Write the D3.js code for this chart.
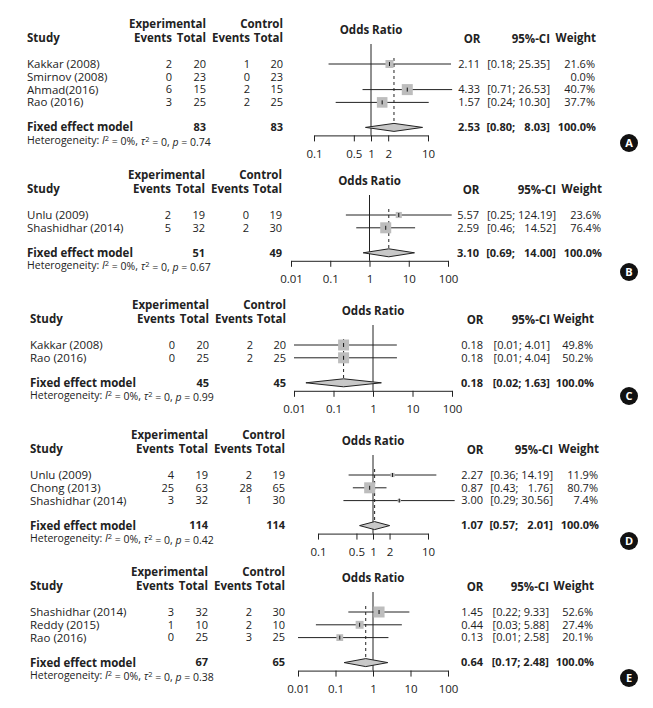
<!DOCTYPE html>
<html>
<head>
<meta charset="utf-8">
<script src="https://cdn.jsdelivr.net/npm/d3@7"></script>
<style>
  body { margin: 0; background: #fff; }
  svg text { font-family: "Open Sans", "Noto Sans", sans-serif; fill: #222; }
  .b { font-weight: bold; }
</style>
</head>
<body>
<div id="chart"></div>
<script>
// forest plots, one per panel (A-E)
const panelLabels = ['A', 'B', 'C', 'D', 'E'];
const studyNames = [
  ['Kakkar (2008)', 'Smirnov (2008)', 'Ahmad(2016)', 'Rao (2016)'],
  ['Unlu (2009)', 'Shashidhar (2014)'],
  ['Kakkar (2008)', 'Rao (2016)'],
  ['Unlu (2009)', 'Chong (2013)', 'Shashidhar (2014)'],
  ['Shashidhar (2014)', 'Reddy (2015)', 'Rao (2016)']
];
const expEvents = [[2, 0, 6, 3], [2, 5], [0, 0], [4, 25, 3], [3, 1, 0]];
const expTotals = [[20, 23, 15, 25], [19, 32], [20, 25], [19, 63, 32], [32, 10, 25]];
const ctrlEvents = [[1, 0, 2, 2], [0, 2], [2, 2], [2, 28, 1], [2, 2, 3]];
const ctrlTotals = [[20, 23, 15, 25], [19, 30], [20, 25], [19, 65, 30], [30, 10, 25]];
const oddsRatios = [[2.11, null, 4.33, 1.57], [5.57, 2.59], [0.18, 0.18], [2.27, 0.87, 3.00], [1.45, 0.44, 0.13]];
const ciLower = [[0.18, null, 0.71, 0.24], [0.25, 0.46], [0.01, 0.01], [0.36, 0.43, 0.29], [0.22, 0.03, 0.01]];
const ciUpper = [[25.35, null, 26.53, 10.30], [124.19, 14.52], [4.01, 4.04], [14.19, 1.76, 30.56], [9.33, 5.88, 2.58]];
const weights = [[21.6, 0.0, 40.7, 37.7], [23.6, 76.4], [49.8, 50.2], [11.9, 80.7, 7.4], [52.6, 27.4, 20.1]];
const pooledOR = [2.53, 3.10, 0.18, 1.07, 0.64];
const pooledLower = [0.80, 0.69, 0.02, 0.57, 0.17];
const pooledUpper = [8.03, 14.00, 1.63, 2.01, 2.48];
const totalExp = [83, 51, 45, 114, 67];
const totalCtrl = [83, 49, 45, 114, 65];
const hetP = ['0.74', '0.67', '0.99', '0.42', '0.38'];
const tickSets = [
  [0.1, 0.5, 1, 2, 10],
  [0.01, 0.1, 1, 10, 100],
  [0.01, 0.1, 1, 10, 100],
  [0.1, 0.5, 1, 2, 10],
  [0.01, 0.1, 1, 10, 100]
];

// layout per panel
const rowTop = [64, 215, 345, 475, 612];
const rowStep = 12.8;
const studyX = [27, 27, 30, 30, 30];
const colShift = [0, -1, 3, 2, 2];
const xRanges = [[314, 428], [291, 448], [294, 452], [318, 428], [298, 448]];
const rightCols = [
  [480, 550, 595],
  [479, 556, 601],
  [483, 550, 593],
  [483, 553, 598],
  [483, 549, 593]
];
const badgeY = [143, 272, 396, 541, 678];

const width = 653, height = 708;
const svg = d3.select('#chart').append('svg')
  .attr('width', width).attr('height', height);

const f2 = d3.format('.2f');
const fs = 11.5;   // names and headers
const fn = 11;     // numbers
const FIG = '\u2007';

function txt(g, x, y, s, anchor, bold, size) {
  return g.append('text')
    .attr('x', x).attr('y', y).attr('dy', '0.35em')
    .attr('text-anchor', anchor || 'start')
    .attr('font-size', size || fs)
    .classed('b', !!bold)
    .text(s);
}

panelLabels.forEach((lab, p) => {
  const g = svg.append('g');
  const r0 = rowTop[p];
  const n = studyNames[p].length;
  const rowY = i => r0 + i * rowStep;
  const fixedY = rowY(n - 1) + 25;
  const axisY = fixedY + 8;
  const cs = colShift[p];
  const cols = [172 + cs, 206 + cs, 250 + cs, 283 + cs];
  const [orR, ciR, wR] = rightCols[p];
  const ticks = tickSets[p];

  // width of upper CI strings in this panel, for padding
  const upLen = d3.max(ciUpper[p].concat([pooledUpper[p]]).filter(v => v != null), v => f2(v).length);
  const ciText = (lo, hi) => '[' + f2(lo) + '; ' + FIG.repeat(upLen - f2(hi).length) + f2(hi) + ']';

  const x = d3.scaleLog()
    .domain([ticks[0], ticks[ticks.length - 1]])
    .range(xRanges[p]);

  // headers
  txt(g, cols[1], r0 - 40, 'Experimental', 'end', true);
  txt(g, cols[3], r0 - 40, 'Control', 'end', true);
  txt(g, studyX[p], r0 - 26, 'Study', 'start', true);
  txt(g, cols[0], r0 - 26, 'Events', 'end', true);
  txt(g, cols[1], r0 - 26, 'Total', 'end', true);
  txt(g, cols[2], r0 - 26, 'Events', 'end', true);
  txt(g, cols[3], r0 - 26, 'Total', 'end', true);
  txt(g, x(1), r0 - 34, 'Odds Ratio', 'middle', true);
  txt(g, orR - 8, r0 - 25, 'OR', 'middle', true);
  txt(g, ciR, r0 - 25, '95%-CI', 'end', true);
  txt(g, wR + 1, r0 - 26, 'Weight', 'end', true);

  // line of no effect
  g.append('line')
    .attr('x1', x(1)).attr('x2', x(1))
    .attr('y1', r0 - 20).attr('y2', axisY)
    .attr('stroke', '#222').attr('stroke-width', 1);

  // pooled estimate dashed line
  g.append('line')
    .attr('x1', x(pooledOR[p])).attr('x2', x(pooledOR[p]))
    .attr('y1', r0 - 6).attr('y2', fixedY - 3)
    .attr('stroke', '#222').attr('stroke-width', 1)
    .attr('stroke-dasharray', '3,3');

  const maxW = d3.max(weights[p]);

  studyNames[p].forEach((name, i) => {
    const y = rowY(i);
    txt(g, studyX[p], y, name);
    txt(g, cols[0], y, expEvents[p][i], 'end', false, fn);
    txt(g, cols[1], y, expTotals[p][i], 'end', false, fn);
    txt(g, cols[2], y, ctrlEvents[p][i], 'end', false, fn);
    txt(g, cols[3], y, ctrlTotals[p][i], 'end', false, fn);
    txt(g, wR, y, weights[p][i].toFixed(1) + '%', 'end', false, fn);

    const or = oddsRatios[p][i];
    if (or == null) return;
    txt(g, orR, y, f2(or), 'end', false, fn);
    txt(g, ciR, y, ciText(ciLower[p][i], ciUpper[p][i]), 'end', false, fn);

    g.append('line')
      .attr('x1', x(ciLower[p][i])).attr('x2', x(ciUpper[p][i]))
      .attr('y1', y).attr('y2', y)
      .attr('stroke', '#222').attr('stroke-width', 1);
    const side = 11 * Math.sqrt(weights[p][i] / maxW);
    g.append('rect')
      .attr('x', x(or) - side / 2).attr('y', y - side / 2)
      .attr('width', side).attr('height', side)
      .attr('fill', '#bdbdbd');
    g.append('line')
      .attr('x1', x(or)).attr('x2', x(or))
      .attr('y1', y - 2).attr('y2', y + 2)
      .attr('stroke', '#111').attr('stroke-width', 1);
  });

  // pooled row
  txt(g, studyX[p], fixedY, 'Fixed effect model', 'start', true);
  txt(g, cols[1], fixedY, totalExp[p], 'end', true, fn);
  txt(g, cols[3], fixedY, totalCtrl[p], 'end', true, fn);
  txt(g, orR, fixedY, f2(pooledOR[p]), 'end', true, fn);
  txt(g, ciR, fixedY, ciText(pooledLower[p], pooledUpper[p]), 'end', true, fn);
  txt(g, wR + 1, fixedY, '100.0%', 'end', true, fn);

  const dh = 4;
  const diamond = [
    [x(pooledLower[p]), fixedY],
    [x(pooledOR[p]), fixedY - dh],
    [x(pooledUpper[p]), fixedY],
    [x(pooledOR[p]), fixedY + dh]
  ];
  g.append('path')
    .attr('d', d3.line()(diamond) + 'Z')
    .attr('fill', '#c8c8c8').attr('stroke', '#222').attr('stroke-width', 1);

  // heterogeneity
  const het = g.append('text')
    .attr('x', studyX[p]).attr('y', fixedY + 12.5).attr('dy', '0.35em')
    .attr('font-size', 10.5);
  het.append('tspan').text('Heterogeneity: ');
  het.append('tspan').attr('font-style', 'italic').text('I');
  het.append('tspan').attr('dy', '-0.4em').attr('font-size', 7.5).text('2');
  het.append('tspan').attr('dy', '0.4em').text(' = 0%, ');
  het.append('tspan').attr('font-style', 'italic').text('\u03c4');
  het.append('tspan').attr('dy', '-0.4em').attr('font-size', 7.5).text('2');
  het.append('tspan').attr('dy', '0.4em').text(' = 0, ');
  het.append('tspan').attr('font-style', 'italic').text('p');
  het.append('tspan').text(' = ' + hetP[p]);

  // axis
  const axis = d3.axisBottom(x)
    .tickValues(ticks)
    .tickFormat(d => String(d))
    .tickSize(6)
    .tickSizeOuter(0);
  const ax = g.append('g')
    .attr('transform', `translate(0,${axisY})`)
    .call(axis);
  ax.select('.domain').attr('stroke', '#222');
  ax.selectAll('.tick line').attr('stroke', '#222');
  ax.selectAll('.tick text')
    .attr('font-size', fs).attr('fill', '#222')
    .attr('font-family', '"Open Sans", "Noto Sans", sans-serif')
    .attr('y', 14);

  // panel badge
  g.append('circle')
    .attr('cx', 629).attr('cy', badgeY[p]).attr('r', 9)
    .attr('fill', '#111');
  g.append('text')
    .attr('x', 629).attr('y', badgeY[p]).attr('dy', '0.36em')
    .attr('text-anchor', 'middle').attr('font-size', 11)
    .attr('font-weight', 'bold').style('fill', '#fff')
    .text(lab);
});
</script>
</body>
</html>
